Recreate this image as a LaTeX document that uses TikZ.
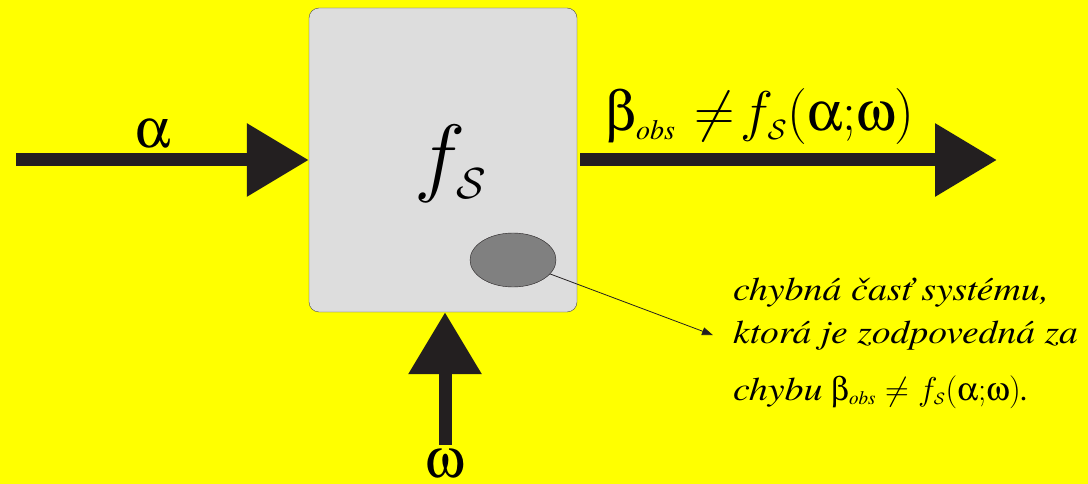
\RequirePackage{fix-cm}
\documentclass[tikz,border=0pt]{standalone}
\usepackage{amsmath,amssymb}
\usepackage[Symbol]{upgreek}
\usepackage{fontspec}
\setmainfont{texgyretermes}[Extension=.otf,UprightFont=*-regular,ItalicFont=*-italic,BoldFont=*-bold,BoldItalicFont=*-bolditalic]
\usetikzlibrary{arrows.meta,positioning,calc,shapes.geometric}
\definecolor{bg}{RGB}{255,255,0}
\definecolor{ink}{RGB}{35,31,32}
\definecolor{boxgray}{RGB}{221,221,221}
\definecolor{errgray}{RGB}{128,128,128}
\newcommand{\fsys}{f_{\scriptscriptstyle\mathcal{S}}}
\newcommand{\obs}[1]{_{\mbox{\fontsize{#1}{#1}\selectfont\itshape obs}}}

\begin{document}
\begin{tikzpicture}[x=1pt,y=-1pt,
  bigarrow/.style={ink,line width=13pt,-{Triangle[length=62pt,width=70pt]}},
  lbl/.style={inner sep=0pt,font=\fontsize{56}{56}\selectfont},
  note/.style={inner sep=0pt,anchor=base west,font=\itshape\fontsize{33}{38}\selectfont}]
\fill[bg] (0,0) rectangle (1088,484);
\useasboundingbox (0,0) rectangle (1088,484);
\node[draw=ink!80,fill=boxgray,rounded corners=10pt,minimum width=268pt,minimum height=304pt,inner sep=0pt] (sys) at (443,160) {};
\node[font=\fontsize{87}{87}\selectfont] (fs) at (451,164) {$\fsys$};
\node[draw=ink,fill=errgray,ellipse,minimum width=86pt,minimum height=54pt,inner sep=0pt] (err) at (513,260) {};
\coordinate (in) at (16,160);
\coordinate (out) at (997,160);
\coordinate (dist) at (445,445);
\draw[bigarrow] (in) -- (sys.west);
\draw[bigarrow] ([xshift=3pt]sys.east) -- (out);
\draw[bigarrow] (dist) -- (dist |- sys.south);
\node[lbl] (alpha) at (153,134) {$\upalpha$};
\node[lbl] (beta) at (760,117) {$\upbeta\obs{28}\mathrel{\mkern1mu\neq\mkern-3mu}\fsys(\upalpha{;}\upomega)$};
\node[lbl] (omega) at (445,464) {$\upomega$};
\node[note] (note1) at (733,300) {\scalebox{1.15}[1]{chybná časť systému,}};
\node[note] (note2) at (733,343) {\scalebox{1.14}[1]{ktorá je zodpovedná za}};
\node[note] (note3) at (733,400) {\scalebox{1.15}[1]{chybu} $\upbeta\obs{19}\neq\fsys(\upalpha{;}\upomega)$.};
\draw[ink,line width=0.8pt,-{Triangle[length=11pt,width=8pt]}] (err) -- ([xshift=-20pt]note2.west);
\end{tikzpicture}
\end{document}
